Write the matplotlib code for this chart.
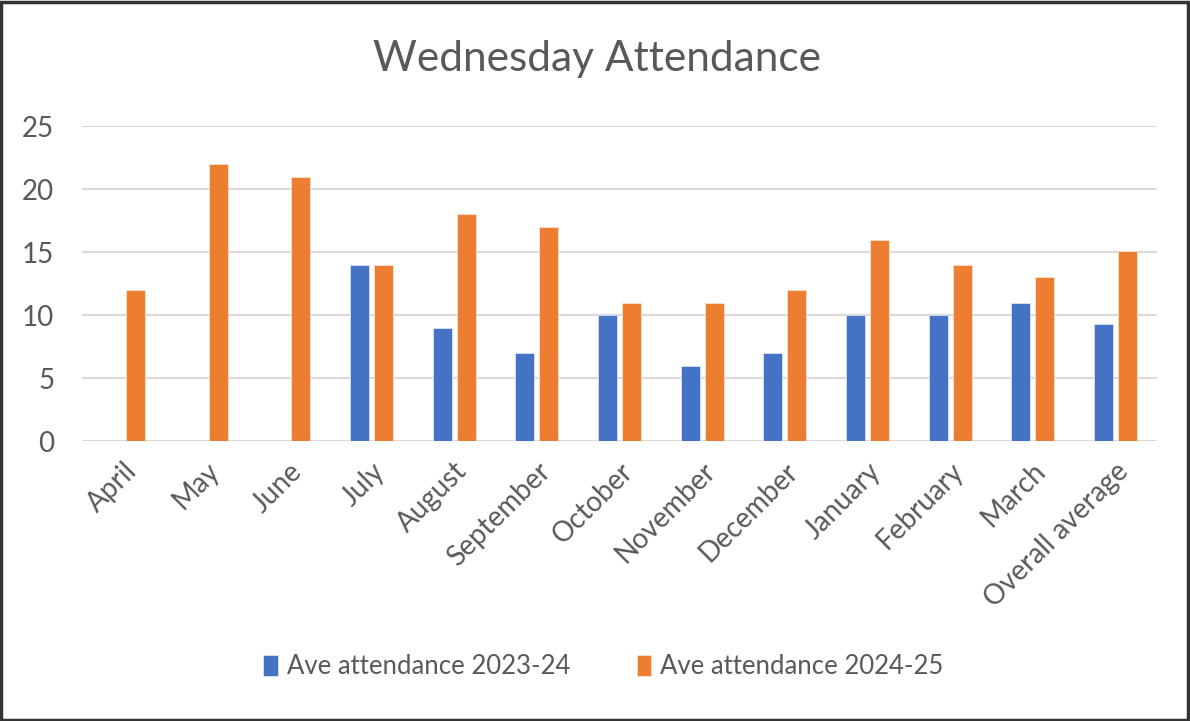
import numpy as np
import matplotlib.pyplot as plt
from matplotlib.patches import Rectangle

# Chart data
months = ['April', 'May', 'June', 'July', 'August', 'September', 'October',
          'November', 'December', 'January', 'February', 'March', 'Overall average']
att_2324 = [0, 0, 0, 14, 9, 7, 10, 6, 7, 10, 10, 11, 9.33]
att_2425 = [12, 22, 21, 14, 18, 17, 11, 11, 12, 16, 14, 13, 15.08]
labels = ['Ave attendance 2023-24', 'Ave attendance 2024-25']

plt.rcParams['font.family'] = ['Lato', 'DejaVu Sans']
text_col = '#595959'

fig = plt.figure(figsize=(11.9, 7.21), dpi=100)
ax = fig.add_axes([0.069, 0.388, 0.903, 0.437])

x = np.arange(len(months))
w = 0.23
ax.bar(x - 0.145, att_2324, w, color='#4472C4', edgecolor='#dce4f5', linewidth=0.6,
       label=labels[0], zorder=3)
ax.bar(x + 0.145, att_2425, w, color='#ED7D31', edgecolor='#fbe0cf', linewidth=0.6,
       label=labels[1], zorder=3)

ax.set_xlim(-0.5, len(months) - 0.5)
ax.set_ylim(0, 25)
ax.set_yticks(range(0, 26, 5))
ax.grid(axis='y', color='#d9d9d9', linewidth=1.5, zorder=0)
for s in ['top', 'right', 'left', 'bottom']:
    ax.spines[s].set_visible(False)
ax.tick_params(length=0, labelsize=20, colors=text_col)
ax.tick_params(axis='y', pad=20)
ax.tick_params(axis='x', pad=12)
ax.set_xticks(x)
ax.set_xticklabels(months, rotation=45, ha='right', rotation_mode='anchor')

fig.text(0.502, 0.918, 'Wednesday Attendance', ha='center', va='center',
         fontsize=30.5, color=text_col)

fig.legend(loc='center', bbox_to_anchor=(0.507, 0.075), ncol=2, frameon=False,
           fontsize=18.5, labelcolor=text_col, handlelength=0.55, handleheight=0.9,
           handletextpad=0.35, columnspacing=2.6)

fig.patches.append(Rectangle((0.001, 0.002), 0.997, 0.995, transform=fig.transFigure,
                             fill=False, edgecolor='#333333', linewidth=2.5))

plt.savefig('out.png', dpi=100, facecolor='white')
